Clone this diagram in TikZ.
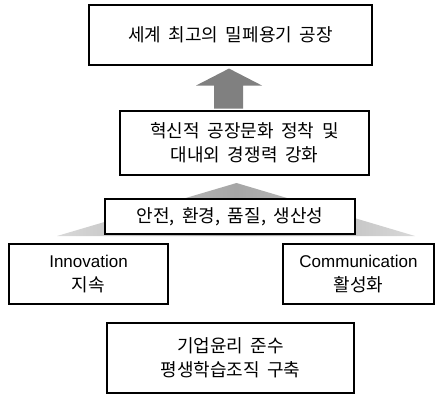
\documentclass[tikz,border=0pt]{standalone}
\usepackage{fontspec}
\usetikzlibrary{calc}
\setmainfont{Noto Sans CJK KR}
\newfontfamily\latinfont{Liberation Sans}
\newcommand{\boxfont}{\fontsize{18}{24}\selectfont\spaceskip=0.42em plus 0.1em\relax}
\begin{document}
\begin{tikzpicture}[x=1pt,y=-1pt,
  box/.style={draw=black,line width=1.1pt,fill=white,inner sep=0pt,
    align=center,font=\boxfont},
  blockarrow/.style={fill=gray,draw=none}]
\useasboundingbox (0,0) rectangle (435,394);

% top goal
\node[box,minimum width=283pt,minimum height=60pt] (goal) at (230.5,35) {세계 최고의 밀페용기 공장};
% culture
\node[box,minimum width=249pt,minimum height=64pt] (culture) at (244.5,143) {혁신적 공장문화 정착 및\\대내외 경쟁력 강화};

% wide shaded triangle behind the base bar
\shade[left color=gray!30, right color=gray!30, middle color=gray!70]
  (236.5,183) -- (415,236) -- (57,236) -- cycle;

% base bar
\node[box,minimum width=250pt,minimum height=35pt] (base) at (230,216.5) {안전, 환경, 품질, 생산성};

% pillars
\node[box,minimum width=159pt,minimum height=60pt] (innov) at (88.5,274) {{\latinfont\fontsize{17}{24}\selectfont Innovation}\\지속};
\node[box,minimum width=151pt,minimum height=60pt] (comm) at (358.5,274) {{\latinfont\fontsize{17}{24}\selectfont Communication}\\활성화};

% foundation
\node[box,minimum width=247pt,minimum height=70pt] (found) at (230.5,358) {기업윤리 준수\\평생학습조직 구축};

% block arrow from culture up to goal
\coordinate (tip) at ($(goal.south)+(-1.5,3)$);
\path[blockarrow] (tip) -- ++(33,17) -- ++(-19,0) -- ++(0,23) -- ++(-29,0)
  -- ++(0,-23) -- ++(-18,0) -- cycle;
\end{tikzpicture}
\end{document}
